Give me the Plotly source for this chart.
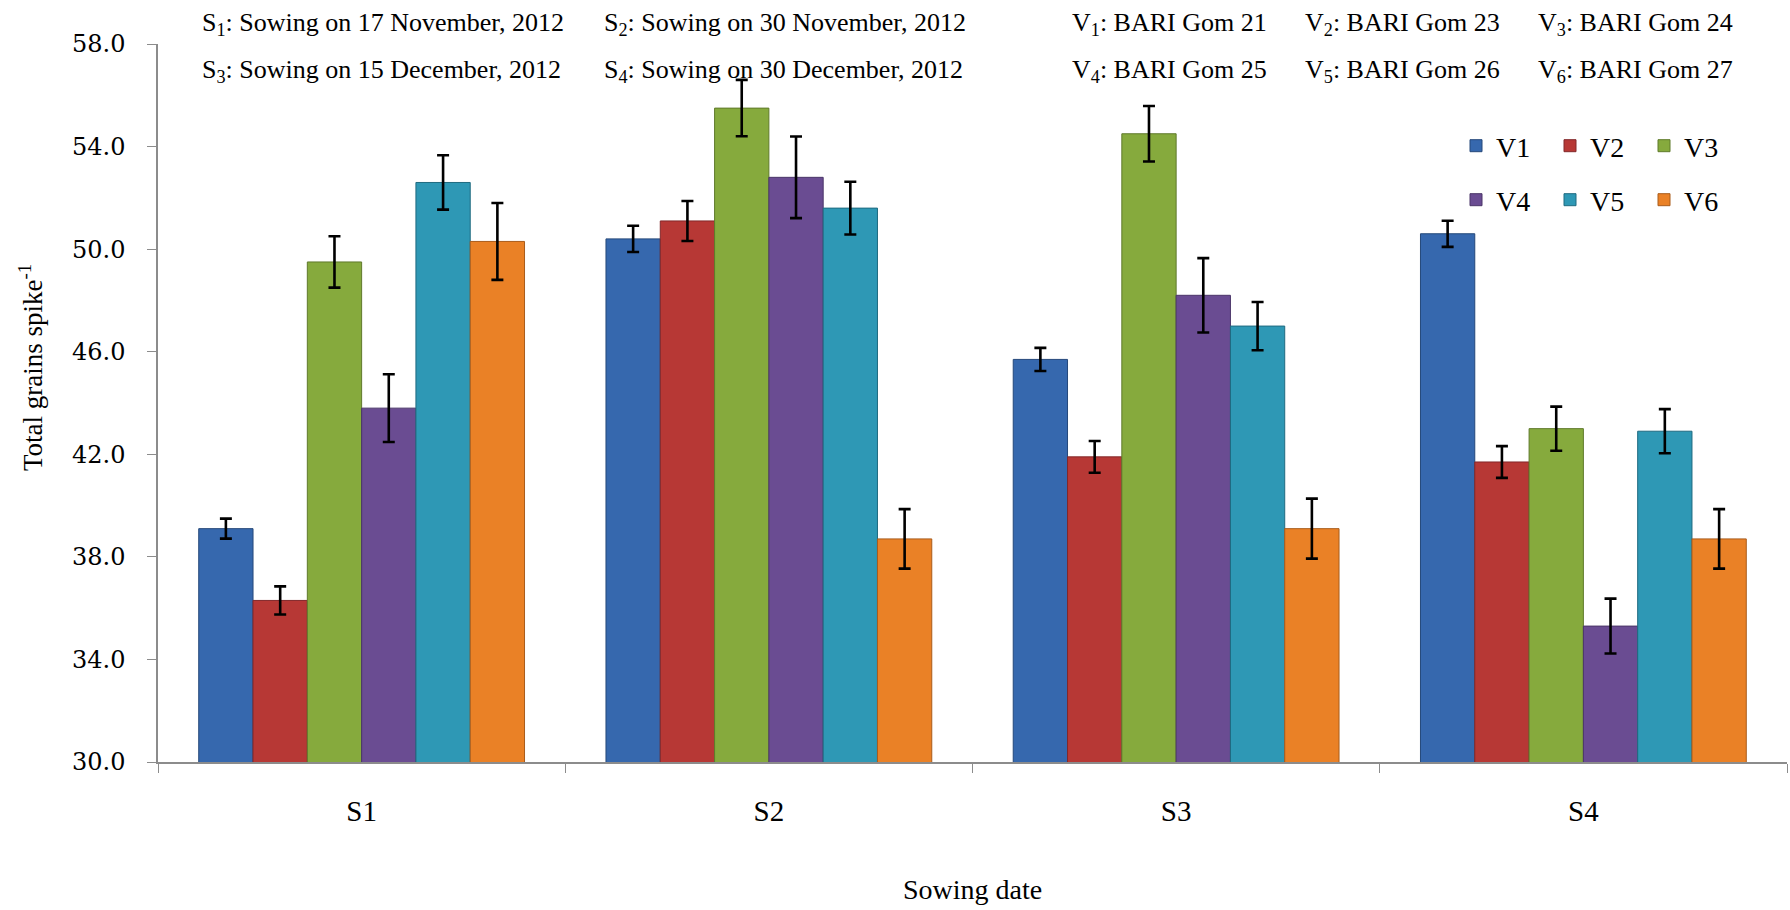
import plotly.graph_objects as go

# ---------------- data ----------------
sowing_dates = ["S1", "S2", "S3", "S4"]
varieties = ["V1", "V2", "V3", "V4", "V5", "V6"]

v1_values = [39.1, 50.4, 45.7, 50.6]
v2_values = [36.3, 51.1, 41.9, 41.7]
v3_values = [49.5, 55.5, 54.5, 43.0]
v4_values = [43.8, 52.8, 48.2, 35.3]
v5_values = [52.6, 51.6, 47.0, 42.9]
v6_values = [50.3, 38.7, 39.1, 38.7]

v1_err = [0.39, 0.51, 0.45, 0.51]
v2_err = [0.55, 0.78, 0.62, 0.62]
v3_err = [1.00, 1.10, 1.08, 0.86]
v4_err = [1.32, 1.59, 1.45, 1.07]
v5_err = [1.06, 1.03, 0.94, 0.86]
v6_err = [1.50, 1.16, 1.17, 1.16]

y_ticks = [30.0, 34.0, 38.0, 42.0, 46.0, 50.0, 54.0, 58.0]

sowing_notes = [
    "S<sub>1</sub>: Sowing on 17 November, 2012",
    "S<sub>2</sub>: Sowing on 30 November, 2012",
    "S<sub>3</sub>: Sowing on 15 December, 2012",
    "S<sub>4</sub>: Sowing on 30 December, 2012",
]
variety_notes = [
    "V<sub>1</sub>: BARI Gom 21",
    "V<sub>2</sub>: BARI Gom 23",
    "V<sub>3</sub>: BARI Gom 24",
    "V<sub>4</sub>: BARI Gom 25",
    "V<sub>5</sub>: BARI Gom 26",
    "V<sub>6</sub>: BARI Gom 27",
]

values = [v1_values, v2_values, v3_values, v4_values, v5_values, v6_values]
errors = [v1_err, v2_err, v3_err, v4_err, v5_err, v6_err]

colors = ["#3668AE", "#B73835", "#86AA3D", "#6A4C92", "#2E98B5", "#EA8126"]
edge_colors = ["#25487A", "#82282A", "#5F7A2B", "#4A3568", "#1F6A80", "#A95C1B"]

# ---------------- layout geometry (pixels) ----------------
W, H = 1790, 910
L, R, T, B = 158, 3, 44, 148
plot_w = W - L - R
plot_h = H - T - B


def px_x(x):
    return (x - L) / plot_w


def px_y(y):
    return (H - B - y) / plot_h


FONT = "Liberation Serif"
TICK_FONT = "DejaVu Serif"

fig = go.Figure()
for i, name in enumerate(varieties):
    fig.add_trace(go.Bar(
        name=name,
        x=sowing_dates,
        y=values[i],
        base=0,
        marker=dict(color=colors[i], line=dict(color=edge_colors[i], width=1)),
        error_y=dict(type="data", array=errors[i], visible=True,
                     color="black", thickness=2.6, width=6),
        legend="legend" if i < 3 else "legend2",
    ))

annotations = []
row_y = [24, 71]
s_x = [200, 601.6]
v_x = [1069.7, 1302.5, 1535.5]
for k, txt in enumerate(sowing_notes):
    annotations.append(dict(
        text=txt, xref="paper", yref="paper",
        x=px_x(s_x[k % 2]), y=px_y(row_y[k // 2]),
        xanchor="left", yanchor="middle", showarrow=False,
        font=dict(family=FONT, size=26, color="black")))
for k, txt in enumerate(variety_notes):
    annotations.append(dict(
        text=txt, xref="paper", yref="paper",
        x=px_x(v_x[k % 3]), y=px_y(row_y[k // 3]),
        xanchor="left", yanchor="middle", showarrow=False,
        font=dict(family=FONT, size=26, color="black")))

annotations.append(dict(
    text="Total grains spike<sup>-1</sup>", xref="paper", yref="paper",
    x=px_x(31), y=px_y(368), textangle=-90,
    xanchor="center", yanchor="middle", showarrow=False,
    font=dict(family=FONT, size=27, color="black")))
annotations.append(dict(
    text="Sowing date", xref="paper", yref="paper",
    x=px_x((158 + 1787) / 2), y=px_y(889),
    xanchor="center", yanchor="middle", showarrow=False,
    font=dict(family=FONT, size=28, color="black")))

legend_common = dict(
    orientation="h", xanchor="left", yanchor="middle",
    font=dict(family=FONT, size=28, color="black"),
    bgcolor="rgba(0,0,0,0)", entrywidth=49, entrywidthmode="pixels",
    itemclick=False, itemdoubleclick=False,
)

fig.update_layout(
    width=W, height=H,
    margin=dict(l=L, r=R, t=T, b=B),
    paper_bgcolor="white", plot_bgcolor="white",
    barmode="group", bargap=0.2, bargroupgap=0,
    showlegend=True,
    legend=dict(x=px_x(1456), y=px_y(146), **legend_common),
    legend2=dict(x=px_x(1456), y=px_y(200), **legend_common),
    annotations=annotations,
    font=dict(family=FONT, color="black"),
    xaxis=dict(
        type="category", showline=True, linecolor="#8C8C8C", linewidth=1.5,
        ticks="outside", tickson="boundaries", ticklen=9, tickcolor="#8C8C8C",
        tickfont=dict(family=FONT, size=29, color="black"),
        ticklabelstandoff=22, showgrid=False, zeroline=False,
    ),
    yaxis=dict(
        range=[30, 58], tickvals=y_ticks, tickformat=".1f",
        showline=True, linecolor="#8C8C8C", linewidth=1.5,
        ticks="outside", ticklen=9, tickcolor="#8C8C8C",
        tickfont=dict(family=TICK_FONT, size=24, color="black"),
        ticklabelstandoff=17,
        showgrid=False, zeroline=False,
    ),
)

fig.write_html("out.html")
